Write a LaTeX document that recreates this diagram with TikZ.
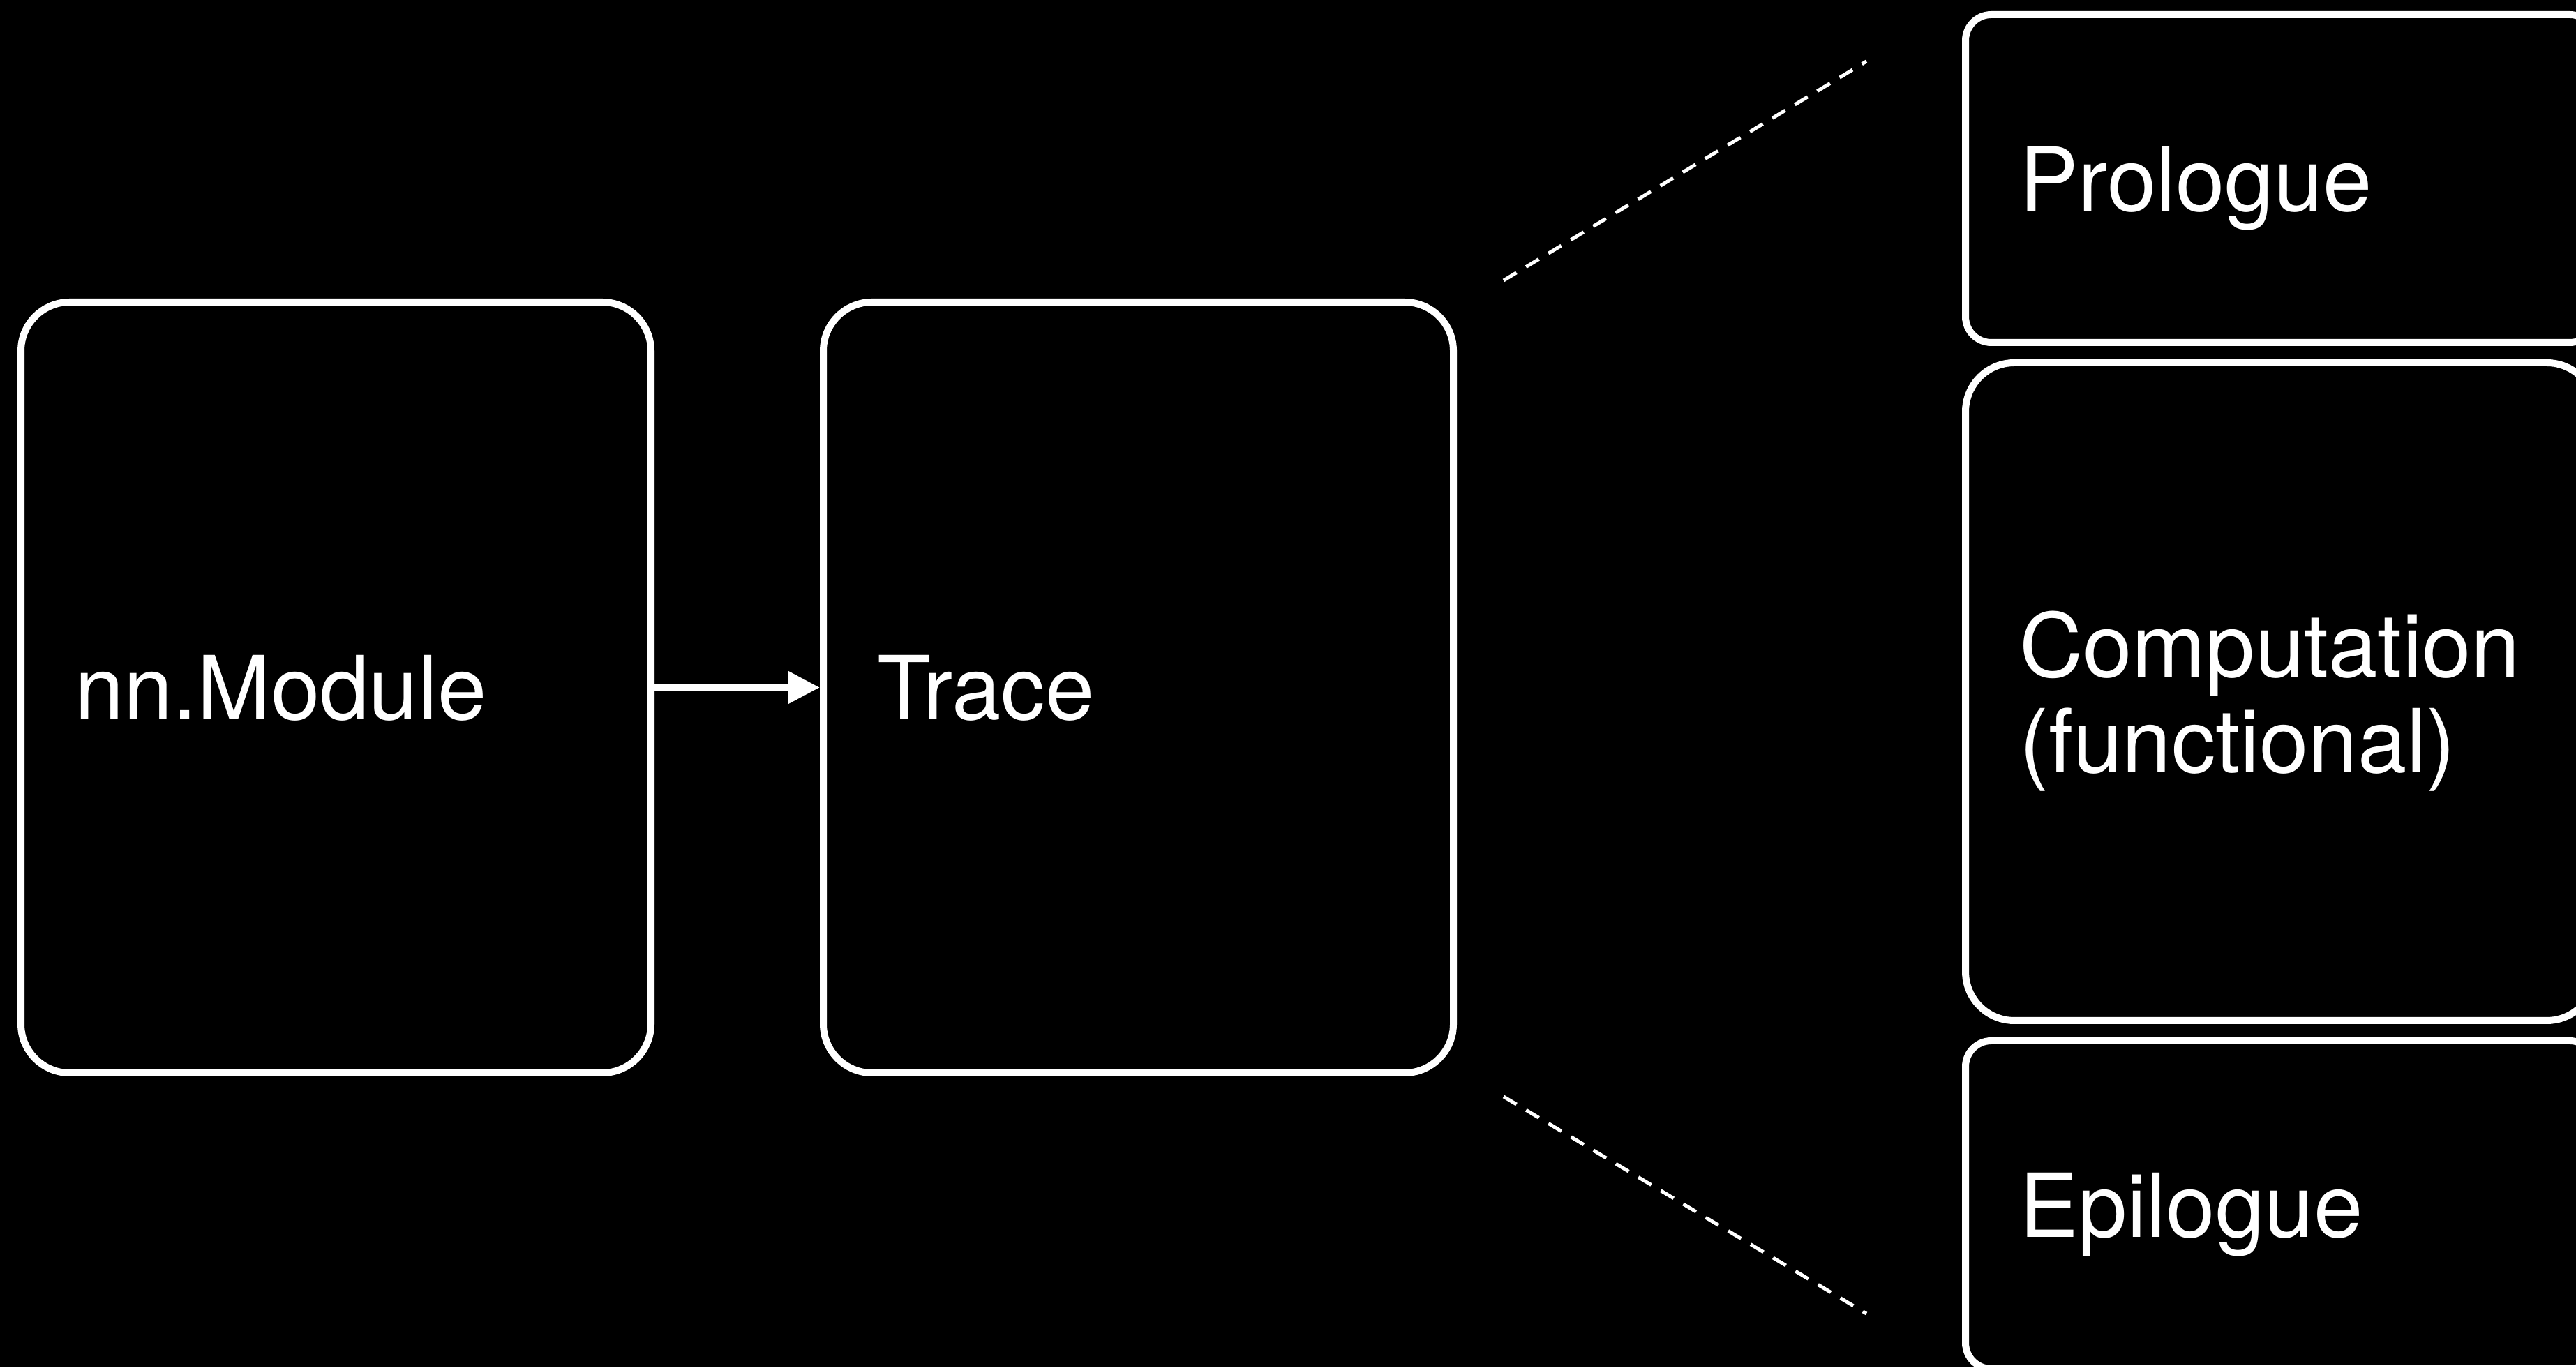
\documentclass[tikz,border=0pt]{standalone}
\usepackage{fontspec}
\setmainfont{TeX Gyre Heros}
\usepackage{tikz}
\usetikzlibrary{positioning}
\usetikzlibrary{arrows.meta}

\begin{document}
\begin{tikzpicture}[
    every node/.style={font=\fontsize{36}{39}\selectfont, text=white},
    block/.style={draw=white, line width=0.1cm, rounded corners=0.7cm, outer sep=0pt,
      inner xsep=0.77cm, text width=7.49cm, align=left, minimum height=11.05cm, text depth=0pt},
    part/.style={block, rounded corners=0.37cm, minimum height=4.70cm},
    zoomline/.style={draw=white, line width=0.05cm, dash pattern=on 0.215cm off 0.16cm}
  ]
  \fill[black] (0,0) rectangle (36.92,19.60);
  \useasboundingbox (0,0) rectangle (36.92,19.60);

  \node[block] (mod) at (4.815,9.745) {nn.Module};
  \node[block, right=2.47cm of mod] (trace) {Trace};
  % the trace split into its three pieces
  \node[block, minimum height=9.43cm, text depth=1.37cm, right=7.34cm of trace, yshift=-0.06cm] (comp) {Computation\\(functional)};
  \node[part, above=0.29cm of comp] (pro) {Prologue};
  \node[part, below=0.29cm of comp] (epi) {Epilogue};

  \draw[-{Triangle[length=0.45cm,width=0.44cm]}, white, line width=0.1cm, shorten >=0.05cm] (mod) -- (trace);

  \coordinate (zt) at ([xshift=0.72cm, yshift=0.31cm]trace.north east);
  \coordinate (zb) at ([xshift=0.72cm, yshift=-0.34cm]trace.south east);
  \coordinate (zp) at ([xshift=-1.42cm, yshift=-0.67cm]pro.north west);
  \coordinate (ze) at ([xshift=-1.42cm, yshift=0.79cm]epi.south west);
  \path[zoomline]
  (zt) -- (zp)
  (zb) -- (ze)
  ;
\end{tikzpicture}
\end{document}
